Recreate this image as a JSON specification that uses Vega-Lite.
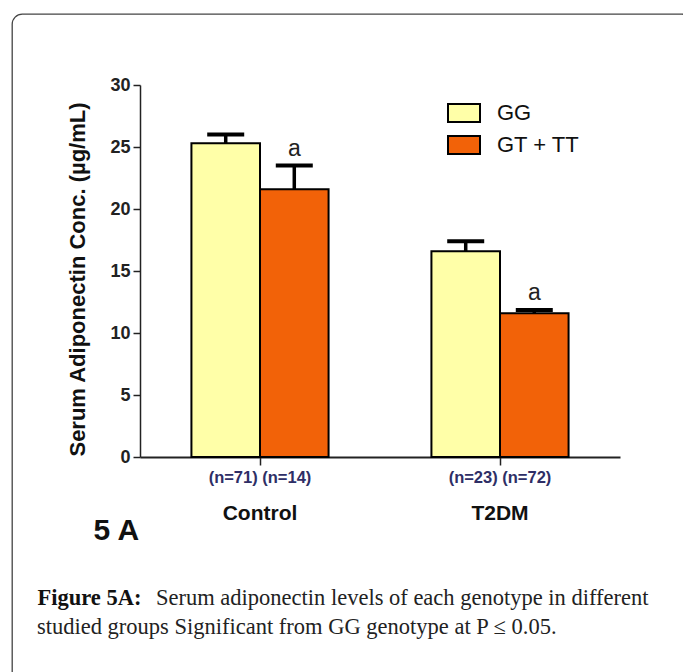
{
  "$schema": "https://vega.github.io/schema/vega-lite/v6.json",
  "width": 680,
  "height": 668,
  "autosize": {"type": "none"},
  "padding": {"left": 12, "top": 14, "right": -9, "bottom": -10},
  "background": "white",
  "config": {"view": {"stroke": "#444", "strokeWidth": 1.3, "cornerRadius": 10}},
  "title": {
    "text": "studied groups Significant from GG genotype at P ≤ 0.05.",
    "orient": "bottom", "anchor": "start", "frame": "group",
    "offset": -48, "dx": 25, "baseline": "alphabetic",
    "font": "Liberation Serif", "fontSize": 22.5, "fontWeight": "normal", "color": "#222"
  },
  "datasets": {
    "bars": [
      {"group": "Control", "genotype": "GG", "value": 25.3, "upper": 26.0, "sig": ""},
      {"group": "Control", "genotype": "GT + TT", "value": 21.6, "upper": 23.5, "sig": "a"},
      {"group": "T2DM", "genotype": "GG", "value": 16.6, "upper": 17.4, "sig": ""},
      {"group": "T2DM", "genotype": "GT + TT", "value": 11.6, "upper": 11.85, "sig": "a"}
    ],
    "counts": [
      {"group": "Control", "n": "(n=71) (n=14)"},
      {"group": "T2DM", "n": "(n=23) (n=72)"}
    ]
  },
  "layer": [
    {
      "data": {"name": "bars"},
      "mark": {"type": "bar", "stroke": "black", "strokeWidth": 2},
      "encoding": {
        "x": {
          "field": "group", "type": "nominal", "sort": ["Control", "T2DM"],
          "scale": {"range": [128, 608], "paddingInner": 0, "paddingOuter": 0},
          "axis": {
            "orient": "bottom", "offset": -225,
            "title": "5 A", "titleX": 81, "titleY": 82, "titleAlign": "left", "titleBaseline": "alphabetic",
            "titleFont": "Liberation Sans", "titleFontSize": 30, "titleFontWeight": "bold", "titleColor": "#111",
            "labelFont": "Liberation Sans", "labelFontSize": 21, "labelFontWeight": "bold", "labelColor": "#111",
            "labelPadding": 37, "labelAngle": 0,
            "tickSize": 8, "tickWidth": 1.5, "tickColor": "#222",
            "domainColor": "#222", "domainWidth": 2, "grid": false
          }
        },
        "xOffset": {
          "field": "genotype", "type": "nominal", "sort": ["GG", "GT + TT"],
          "scale": {"paddingInner": 0, "paddingOuter": 0.75}
        },
        "y": {
          "field": "value", "type": "quantitative",
          "scale": {"domain": [0, 30], "range": [443, 71], "nice": false, "zero": true},
          "axis": {
            "orient": "left", "offset": -128, "values": [0, 5, 10, 15, 20, 25, 30],
            "title": "Serum Adiponectin Conc. (µg/mL)",
            "titleX": -63, "titleY": 265, "titleAngle": -90, "titleAlign": "center", "titleBaseline": "middle",
            "titleFont": "Liberation Sans", "titleFontSize": 22, "titleFontWeight": "bold", "titleColor": "#111",
            "labelFont": "Liberation Sans", "labelFontSize": 18, "labelFontWeight": "bold", "labelColor": "#222",
            "labelPadding": 3, "tickSize": 7, "tickWidth": 1.5, "tickColor": "#222",
            "domainColor": "#222", "domainWidth": 1.5, "grid": false
          }
        },
        "fill": {
          "field": "genotype", "type": "nominal", "sort": ["GG", "GT + TT"],
          "scale": {"domain": ["GG", "GT + TT"], "range": ["#FFFFA8", "#F26208"]},
          "legend": {
            "title": null, "orient": "none", "legendX": 435, "legendY": 82,
            "symbolType": "M-1,-0.56H1V0.56H-1Z", "symbolSize": 1024,
            "symbolStrokeColor": "black", "symbolStrokeWidth": 2, "symbolOpacity": 1,
            "labelFont": "Liberation Sans", "labelFontSize": 22, "labelColor": "#111",
            "labelOffset": 16, "rowPadding": 2, "padding": 0
          }
        }
      }
    },
    {
      "data": {"name": "bars"},
      "mark": {"type": "rule", "color": "black", "strokeWidth": 3.5},
      "encoding": {
        "x": {
          "field": "group", "type": "nominal", "sort": ["Control", "T2DM"],
          "axis": {
            "orient": "top", "title": "Figure 5A:", "titleX": 25, "titleY": 590,
            "titleAlign": "left", "titleBaseline": "alphabetic",
            "titleFont": "Liberation Serif", "titleFontSize": 22.5, "titleFontWeight": "bold", "titleColor": "#111",
            "labels": false, "ticks": false, "domain": false, "grid": false
          }
        },
        "xOffset": {"field": "genotype", "type": "nominal", "sort": ["GG", "GT + TT"]},
        "y": {"field": "value", "type": "quantitative", "axis": null},
        "y2": {"field": "upper"}
      }
    },
    {
      "data": {"name": "bars"},
      "mark": {"type": "tick", "color": "black", "thickness": 4, "size": 37, "opacity": 1},
      "encoding": {
        "x": {"field": "group", "type": "nominal", "sort": ["Control", "T2DM"], "axis": null},
        "xOffset": {"field": "genotype", "type": "nominal", "sort": ["GG", "GT + TT"]},
        "y": {"field": "upper", "type": "quantitative", "axis": null}
      }
    },
    {
      "data": {"name": "bars"},
      "mark": {"type": "text", "font": "Liberation Sans", "fontSize": 23, "color": "#222", "baseline": "alphabetic", "dy": -10},
      "encoding": {
        "x": {"field": "group", "type": "nominal", "sort": ["Control", "T2DM"], "axis": null},
        "xOffset": {"field": "genotype", "type": "nominal", "sort": ["GG", "GT + TT"]},
        "y": {
          "field": "upper", "type": "quantitative",
          "axis": {
            "orient": "right", "title": "Serum adiponectin levels of each genotype in different",
            "titleAngle": 0, "titleX": -44, "titleY": 590, "titleAlign": "right", "titleBaseline": "alphabetic",
            "titleFont": "Liberation Serif", "titleFontSize": 22.5, "titleFontWeight": "normal", "titleColor": "#222",
            "labels": false, "ticks": false, "domain": false, "grid": false
          }
        },
        "text": {"field": "sig"}
      }
    },
    {
      "data": {"name": "counts"},
      "mark": {"type": "text", "font": "Liberation Sans", "fontSize": 16.5, "fontWeight": "bold", "color": "#2E2E66", "baseline": "middle", "dy": 21},
      "encoding": {
        "x": {"field": "group", "type": "nominal", "sort": ["Control", "T2DM"], "axis": null},
        "y": {"datum": 0, "type": "quantitative", "axis": null},
        "text": {"field": "n"}
      }
    }
  ]
}
